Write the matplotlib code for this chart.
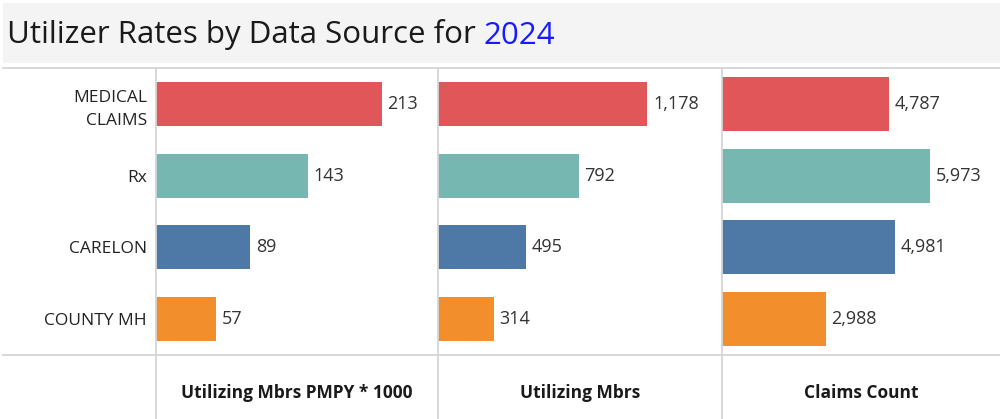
import matplotlib
matplotlib.use("Agg")
import matplotlib.pyplot as plt
from matplotlib.lines import Line2D
from matplotlib.patches import Rectangle
from matplotlib.text import Annotation

plt.rcParams['font.family'] = ['Open Sans', 'DejaVu Sans']

# data
sources = ['MEDICAL\nCLAIMS', 'Rx', 'CARELON', 'COUNTY MH']
pmpy = [213, 143, 89, 57]
mbrs = [1178, 792, 495, 314]
claims = [4787, 5973, 4981, 2988]
measures = ['Utilizing Mbrs PMPY * 1000', 'Utilizing Mbrs', 'Claims Count']
colors = ['#e15759', '#76b7b2', '#4e79a7', '#f28e2b']

W, H = 1000, 419
fig = plt.figure(figsize=(W / 100, H / 100), dpi=100)

def fx(px):
    return px / W

def fy(py):
    return 1 - py / H

# title band
fig.add_artist(Rectangle((fx(3), fy(63)), fx(997), 60 / H, transform=fig.transFigure,
                         facecolor='#f4f4f4', edgecolor='none', zorder=0))
t = fig.text(fx(7), fy(43.5), 'Utilizer Rates by Data Source for ', fontsize=22.5,
             color='#1a1a1a', va='baseline', ha='left')
fig.add_artist(Annotation('2024', xy=(1, 0), xycoords=t, va='bottom', ha='left',
                          fontsize=22.5, color='#1a1aff'))

# panel boundaries in px
edges = [156, 438, 722, 1000]
top, bottom = 68, 355
values = [pmpy, mbrs, claims]
xmaxes = [266, 1597, 7983]
heights = [0.61, 0.61, 0.75]

for i, (vals, xm, bh) in enumerate(zip(values, xmaxes, heights)):
    ax = fig.add_axes([fx(edges[i]), fy(bottom), fx(edges[i + 1] - edges[i]), (bottom - top) / H])
    ypos = list(range(len(sources)))
    ax.barh(ypos, vals, height=bh, color=colors, edgecolor='none')
    ax.set_xlim(0, xm)
    ax.set_ylim(len(sources) - 0.5, -0.5)
    ax.set_xticks([])
    for s in ax.spines.values():
        s.set_visible(False)
    for y, v in zip(ypos, vals):
        ax.annotate(f'{v:,}', (v, y), xytext=(4, 0), textcoords='offset points',
                    va='center', ha='left', fontsize=13, color='#333333')
    if i == 0:
        ax.set_yticks(ypos)
        ax.set_yticklabels(sources, fontsize=12.5, color='#222222', linespacing=1.6)
        ax.tick_params(axis='y', length=0, pad=6.5)
    else:
        ax.set_yticks([])
    fig.text(fx((edges[i] + edges[i + 1]) / 2), fy(393), measures[i], fontsize=12.5,
             fontweight='bold', color='#1a1a1a', ha='center', va='center')

# grid lines
lc = '#d6d6d6'
for y in (top, bottom):
    fig.add_artist(Line2D([fx(3), fx(1000)], [fy(y), fy(y)], color=lc, lw=1.3,
                          transform=fig.transFigure))
for x in edges[:3]:
    fig.add_artist(Line2D([fx(x), fx(x)], [fy(top), fy(419)], color=lc, lw=1.3,
                          transform=fig.transFigure))

fig.savefig('out.png', dpi=100)
